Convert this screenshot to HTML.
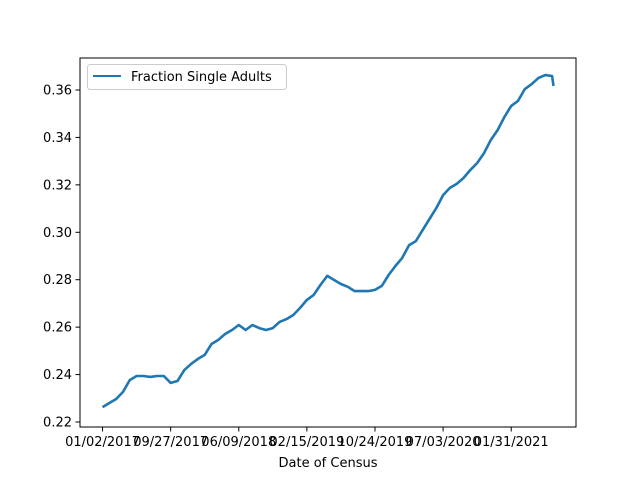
<!DOCTYPE html>
<html><head><meta charset="utf-8">
<style>
html,body{margin:0;padding:0;background:#fff;}
svg{display:block;font-family:"DejaVu Sans","Liberation Sans",sans-serif;}
</style></head>
<body>
<svg id="chart" width="640" height="480" viewBox="0 0 640 480">
<rect x="0" y="0" width="640" height="480" fill="#fff"/>
<path id="series-line" fill="none" stroke="#1f77b4" stroke-width="2.6" stroke-linejoin="round"/>
<rect x="80" y="58" width="496" height="369" fill="none" stroke="#000" stroke-width="1"/>
<g id="xticks"></g>
<g id="yticks"></g>
<text x="328" y="467" text-anchor="middle" font-size="13">Date of Census</text>
<g>
<rect x="87.5" y="64.5" width="199" height="25" rx="3" fill="#fff" fill-opacity="0.8" stroke="#ccc"/>
<line x1="93" y1="76" x2="121" y2="76" stroke="#1f77b4" stroke-width="2"/>
<text x="131" y="81" font-size="13">Fraction Single Adults</text>
</g>
</svg>
<script>
const sampleIndex = [0,10,20,30,40,50,60,70,80,90,100,110,120,130,140,150,160,170,180,190,200,210,220,230,240,250,260,270,280,290,300,310,320,330,340,350,360,370,380,390,400,410,420,430,440,450,460,470,480,490,500,510,520,530,540,550,560,570,580,590,600,610,620,630,640,650,660,662];
const fractionValues = [0.2263,0.228,0.2297,0.2327,0.2377,0.2394,0.2394,0.239,0.2394,0.2394,0.2365,0.2373,0.2419,0.2445,0.2466,0.2483,0.2529,0.2546,0.2571,0.2588,0.2609,0.2588,0.2609,0.2596,0.2588,0.2596,0.2622,0.2634,0.2651,0.2681,0.2715,0.2736,0.2778,0.2816,0.2799,0.2782,0.277,0.2752,0.2752,0.2752,0.2757,0.2774,0.282,0.2858,0.2892,0.2946,0.2963,0.301,0.3056,0.3102,0.3157,0.3187,0.3204,0.3229,0.3263,0.3292,0.3334,0.3389,0.3431,0.3486,0.3533,0.3554,0.3604,0.3625,0.3651,0.3663,0.3659,0.3617];
const xTickIndex = [0,100,200,300,400,500,600];
const xTickLabels = ["01/02/2017","09/27/2017","06/09/2018","02/15/2019","10/24/2019","07/03/2020","01/31/2021"];
const yTickValues = [0.22,0.24,0.26,0.28,0.30,0.32,0.34,0.36];
const yTickLabels = ["0.22","0.24","0.26","0.28","0.30","0.32","0.34","0.36"];

const NS="http://www.w3.org/2000/svg";
const xMin=-33.1, xMax=695.1;
function xs(i){return 80+(i-xMin)/(xMax-xMin)*496;}
function ys(v){return 422-(v-0.22)/0.14*332;}

let d="";
for(let k=0;k<sampleIndex.length;k++){
  d+=(k?"L":"M")+xs(sampleIndex[k]).toFixed(1)+","+ys(fractionValues[k]).toFixed(1);
}
document.getElementById("series-line").setAttribute("d",d);

const xg=document.getElementById("xticks");
xTickIndex.forEach((t,i)=>{
  const x=xs(t);
  const l=document.createElementNS(NS,"line");
  l.setAttribute("x1",x);l.setAttribute("x2",x);l.setAttribute("y1",427);l.setAttribute("y2",431.5);
  l.setAttribute("stroke","#000");
  
  
  xg.appendChild(l);
  const tx=document.createElementNS(NS,"text");
  tx.setAttribute("x",x);tx.setAttribute("y",446);tx.setAttribute("text-anchor","middle");tx.setAttribute("font-size","13");
  tx.textContent=xTickLabels[i];
  
  
  xg.appendChild(tx);
});
const yg=document.getElementById("yticks");
yTickValues.forEach((v,i)=>{
  const y=ys(v);
  const l=document.createElementNS(NS,"line");
  l.setAttribute("x1",75.5);l.setAttribute("x2",80);l.setAttribute("y1",y);l.setAttribute("y2",y);
  l.setAttribute("stroke","#000");
  
  
  yg.appendChild(l);
  const tx=document.createElementNS(NS,"text");
  tx.setAttribute("x",72);tx.setAttribute("y",y+4.5);tx.setAttribute("text-anchor","end");tx.setAttribute("font-size","13");
  tx.textContent=yTickLabels[i];
  
  
  yg.appendChild(tx);
});
</script>
</body></html>
